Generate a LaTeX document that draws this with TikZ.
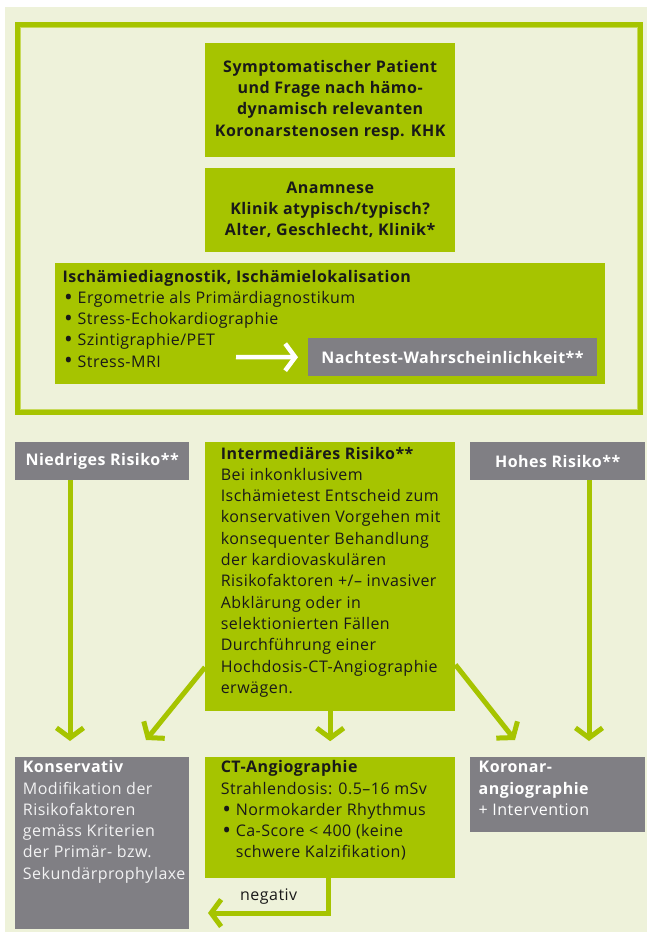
\documentclass[tikz,border=0pt]{standalone}
\usepackage{fontspec}
\usepackage{graphicx}
\setmainfont{Open Sans}[LetterSpace=3]
\usetikzlibrary{arrows.meta,calc}
\definecolor{cream}{RGB}{238,242,218}
\definecolor{leaf}{RGB}{166,196,0}
\definecolor{leaflight}{RGB}{200,218,90}
\definecolor{slate}{RGB}{128,127,132}
\definecolor{ink}{RGB}{25,25,25}
\newcommand\txtblock[2]{\parbox[t]{#1}{\raggedright #2}}
\newcommand\bul{\makebox[15pt][l]{\hspace{1.5pt}\raisebox{-0.2ex}{\scalebox{1.45}{\textbullet}}}}
\newcommand\bulgap{\hspace*{15pt}}
\begin{document}
\begin{tikzpicture}[x=1pt,y=-1pt,
  basefont/.style={font=\fontsize{16}{21.3}\selectfont},
  boldfont/.style={font=\bfseries\fontsize{16}{21.3}\selectfont},
  greenbox/.style={fill=leaf, draw=none, inner sep=0, anchor=north west, text=ink},
  greybox/.style={fill=slate, draw=none, inner sep=0, anchor=north west, text=white},
  body/.style={basefont, inner sep=0, anchor=base west, text=ink},
  arr/.style={draw=leaf, line width=5pt, -{Straight Barb[length=10pt,width=27pt]}},
  warr/.style={draw=white, line width=4.5pt, -{Straight Barb[length=10pt,width=27pt]}}
]
\useasboundingbox (0,0) rectangle (647,932);
% page background
\fill[cream] (4.5,7) rectangle (647,932);

% frame round the diagnostic part
\draw[leaf, line width=5.5pt] (17.75,24.75) rectangle (640.25,412.25);
\draw[leaflight, line width=1pt] (20.8,27.8) rectangle (637.2,409.2);

% diagnostic steps
\node[greenbox, minimum width=250, minimum height=113.5, align=center, boldfont] (sym) at (205,43)
  {Symptomatischer Patient\\und Frage nach hämo-\\dynamisch relevanten\\Koronarstenosen resp. KHK};
\node[greenbox, minimum width=250, minimum height=83.5, align=center, boldfont] (anam) at (205,168)
  {Anamnese\\Klinik atypisch/typisch?\\Alter, Geschlecht, Klinik*};
\node[greenbox, minimum width=550, minimum height=121.3] (isch) at (55,262.7) {};
\node[body] (ischtext) at (62.5,282)
  {\txtblock{420pt}{\textbf{Ischämiediagnostik, Ischämielokalisation}\\
   \bul Ergometrie als Primärdiagnostikum\\
   \bul Stress-Echokardiographie\\
   \bul Szintigraphie/PET\\
   \bul Stress-MRI}};
\node[greybox, minimum width=288.7, minimum height=38, align=center, boldfont] (nach) at (308,338)
  {Nachtest-Wahrscheinlichkeit**};
\coordinate (wstart) at (236,357);
\draw[warr] (wstart) -- ($(nach.west)+(-10,0)$);

% risk classes
\node[greybox, minimum width=174, minimum height=38.3, boldfont] (low) at (15,441.7)
  {Niedriges Risiko**};
\node[greenbox, minimum width=250, minimum height=269.3] (inter) at (205,441.7) {};
\node[body] (intertext) at (220.6,459)
  {\txtblock{260pt}{\textbf{Intermediäres Risiko**}\\
   Bei inkonklusivem\\
   Ischämietest Entscheid zum\\
   konservativen Vorgehen mit\\
   konsequenter Behandlung\\
   der kardiovaskulären\\
   Risikofaktoren +/– invasiver\\
   Abklärung oder in\\
   selektionierten Fällen\\
   Durchführung einer\\
   Hochdosis-CT-Angiographie\\
   erwägen.}};
\node[greybox, minimum width=175, minimum height=38.3, boldfont] (high) at (470,441.7)
  {Hohes Risiko**};

% procedures
\node[greybox, minimum width=174, minimum height=172.3] (kons) at (15,756.7) {};
\node[body, text=white] (konstext) at (22.7,772.7)
  {\txtblock{200pt}{\textbf{Konservativ}\\
   {\color{white!90!slate}Modifikation der\\
   Risikofaktoren\\
   gemäss Kriterien\\
   der Primär- bzw.\\
   Sekundärprophylaxe}}};
\node[greenbox, minimum width=250, minimum height=120.6] (ct) at (205,756.7) {};
\node[body] (cttext) at (220.6,772.7)
  {\txtblock{260pt}{\textbf{CT-Angiographie}\\
   Strahlendosis: 0.5–16 mSv\\
   \bul Normokarder Rhythmus\\
   \bul Ca-Score < 400 (keine\\
   \bulgap schwere Kalzifikation)}};
\node[greybox, minimum width=175, minimum height=75] (koro) at (470,756.7) {};
\node[body, text=white] (korotext) at (478.5,772.7)
  {\txtblock{200pt}{\textbf{Koronar-}\\
   \textbf{angiographie}\\
   + Intervention}};

% connectors
\coordinate (lowend) at (70,741);
\coordinate (highend) at (589,741);
\coordinate (lend) at (146,740);
\coordinate (rend) at (515,740);
\coordinate (negend) at (208,913);
\draw[arr] (low.south -| lowend) -- (lowend);
\draw[arr] (high.south -| highend) -- (highend);
\draw[arr] ($(inter.north west)+(0,225.5)$) -- (lend);
\draw[arr] ($(inter.north east)+(0,223)$) -- (rend);
\draw[arr] (inter.south) -- ($(ct.north)+(0,-15.5)$);
\draw[arr] ($(ct.south)+(-2,0)$) |- (negend);
\node[body] (neg) at (240,900) {negativ};
\end{tikzpicture}
\end{document}
